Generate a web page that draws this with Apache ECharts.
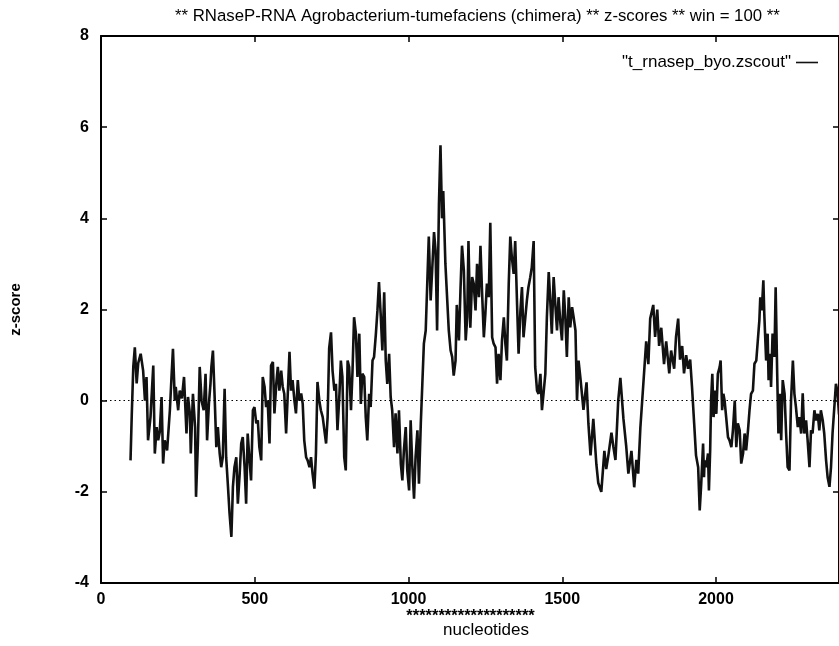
<!DOCTYPE html>
<html>
<head>
<meta charset="utf-8">
<script src="https://cdn.jsdelivr.net/npm/echarts@6/dist/echarts.min.js"></script>
<style>
html,body{margin:0;padding:0;background:#fff;}
#chart{width:839px;height:646px;}
</style>
</head>
<body>
<div id="chart"></div>
<script>
const TITLE = '** RNaseP-RNA Agrobacterium-tumefaciens (chimera) ** z-scores ** win = 100 **';
const SERIES_NAME = '"t_rnasep_byo.zscout"';
const X_NAME = 'nucleotides';
const Y_NAME = 'z-score';
const X_RANGE = [0, 2400];
const X_STEP = 500;
const Y_RANGE = [-4, 8];
const Y_STEP = 2;
const HIGHLIGHT_TEXT = '********************';
const HIGHLIGHT_START = 993;

// [nucleotide position, z-score]
const trace = [
[96,-1.31],[100,-0.32],[105,0.74],[110,1.17],[116,0.38],[121,0.82],[129,1.03],[137,0.66],[143,0],[148,0.52],
[153,-0.87],[161,-0.36],[170,0.77],[175,-1.16],[181,-0.58],[186,-0.87],[191,-0.69],[197,0.08],[202,-1.38],[207,-0.87],
[215,-1.09],[224,-0.21],[229,0.48],[234,1.14],[240,0],[243,0.3],[251,-0.21],[256,0.22],[263,0.05],[270,0.52],
[278,-0.72],[283,0.08],[289,-0.28],[292,-1.16],[299,0.15],[306,-0.58],[309,-2.11],[315,-0.94],[321,0.74],[327,0],
[334,-0.21],[340,0.59],[345,-0.87],[351,-0.06],[356,0.37],[359,0.74],[364,1.10],[370,0],[375,-1.02],[380,-0.58],
[386,-1.16],[391,-1.46],[396,-1.24],[402,0.26],[407,-1.24],[413,-1.89],[418,-2.47],[424,-2.99],[429,-1.89],[434,-1.46],
[440,-1.24],[445,-2.26],[451,-1.60],[456,-0.94],[461,-0.80],[467,-1.46],[472,-2.26],[477,-0.72],[483,-1.31],[488,-1.75],
[494,-0.21],[499,-0.14],[505,-0.50],[510,-0.43],[515,-1.02],[521,-1.31],[526,0.52],[532,0.30],[537,-0.14],[542,0],
[548,-0.94],[553,0.77],[559,0.85],[564,-0.28],[570,0.37],[575,0.74],[580,0.22],[586,0.66],[591,0.30],[596,0.15],
[602,-0.72],[607,0.08],[613,1.07],[618,0.22],[623,0.45],[629,0],[634,-0.28],[640,0.45],[645,0],[651,0.16],
[656,-0.07],[661,-0.87],[667,-1.24],[672,-1.31],[678,-1.46],[683,-1.24],[688,-1.60],[694,-1.93],[699,-1.16],[704,0.41],
[710,0],[715,-0.21],[721,-0.36],[726,-0.33],[732,-0.94],[737,-0.36],[742,1.15],[748,1.50],[753,0.66],[759,0.22],
[764,0.37],[769,-0.65],[775,0.08],[780,0.88],[785,0.52],[791,-1.24],[796,-1.53],[802,0.88],[807,0.74],[813,-0.21],
[818,0.66],[823,1.83],[829,1.47],[834,0.52],[840,1.47],[845,-0.07],[850,0.59],[856,0.52],[861,-0.36],[866,-0.87],
[872,0.15],[877,-0.14],[883,0.88],[888,0.96],[894,1.47],[899,1.98],[904,2.60],[910,1.83],[915,1.10],[921,2.38],
[926,0.88],[931,0.37],[937,1.03],[942,0.08],[947,-0.21],[953,-1.02],[958,-0.28],[964,-1.16],[969,-0.21],[975,-1.38],
[980,-1.75],[985,-1.09],[991,-0.58],[996,-1.53],[1002,-1.97],[1007,-0.43],[1012,-1.38],[1018,-2.15],[1023,-1.24],[1029,-0.65],
[1034,-1.82],[1040,-0.50],[1045,0.37],[1050,1.25],[1056,1.54],[1061,2.57],[1066,3.6],[1072,2.20],[1077,2.86],[1083,3.7],
[1088,3.3],[1093,1.54],[1099,4.3],[1104,5.6],[1109,4.0],[1113,4.6],[1120,3.0],[1126,2.20],[1131,1.54],[1137,1.10],
[1142,0.96],[1147,0.55],[1153,0.88],[1157,2.1],[1164,1.32],[1169,2.42],[1174,3.4],[1180,2.86],[1186,1.32],[1191,1.83],
[1195,3.5],[1201,1.6],[1207,2.71],[1212,2.57],[1218,1.98],[1223,3.0],[1229,2.27],[1234,3.4],[1239,2.42],[1245,1.39],
[1250,1.91],[1255,2.57],[1261,2.27],[1266,3.9],[1272,1.39],[1277,1.25],[1283,1.17],[1288,0.37],[1293,1.03],[1299,0.45],
[1304,1.32],[1310,1.83],[1315,1.25],[1320,0.88],[1326,2.57],[1331,3.6],[1336,3.15],[1342,2.78],[1347,3.5],[1353,2.13],
[1358,1.03],[1364,1.98],[1369,2.49],[1374,1.39],[1380,1.83],[1385,2.20],[1390,2.49],[1396,2.71],[1401,2.93],[1407,3.5],
[1412,0.74],[1418,0.22],[1423,0.15],[1429,0.59],[1434,-0.21],[1440,0.22],[1445,0.59],[1450,1.83],[1456,2.82],[1461,2.20],
[1466,1.47],[1472,2.71],[1478,2.05],[1483,1.54],[1488,2.27],[1494,1.69],[1499,1.32],[1505,2.42],[1510,1.83],[1515,0.96],
[1521,2.27],[1526,1.61],[1532,2.05],[1537,1.83],[1543,1.54],[1548,0.0],[1553,0.88],[1559,0.5],[1569,-0.2],[1579,0.4],
[1585,-0.5],[1592,-1.2],[1601,-0.4],[1611,-1.4],[1617,-1.8],[1627,-2.0],[1637,-1.1],[1643,-1.5],[1650,-1.2],[1660,-0.7],
[1666,-1.0],[1673,-1.3],[1682,0.0],[1689,0.5],[1699,-0.4],[1708,-1.0],[1715,-1.6],[1725,-1.1],[1734,-1.9],[1741,-1.3],
[1747,-1.6],[1754,-0.6],[1763,0.3],[1773,1.3],[1780,0.8],[1786,1.8],[1796,2.1],[1802,1.4],[1809,2.0],[1815,1.2],
[1822,1.6],[1831,0.8],[1838,1.3],[1848,0.6],[1854,1.1],[1864,0.7],[1870,1.4],[1877,1.8],[1883,0.9],[1890,1.2],
[1896,0.6],[1903,1.0],[1909,0.7],[1916,0.9],[1922,0.3],[1929,-0.5],[1935,-1.2],[1942,-1.46],[1947,-2.41],[1952,-1.82],
[1958,-0.94],[1961,-1.68],[1963,-1.31],[1968,-1.46],[1974,-1.16],[1977,-1.97],[1981,-1.09],[1984,0],[1988,0.59],[1992,-0.36],
[1998,0.22],[2001,-0.29],[2006,0.59],[2012,0.74],[2015,0.88],[2020,-0.21],[2024,0.15],[2028,0],[2034,-0.43],[2039,-0.80],
[2044,-0.87],[2050,-1.02],[2055,-0.65],[2061,0],[2066,-1.02],[2071,-0.50],[2077,-0.65],[2082,-1.38],[2088,-1.16],[2093,-0.72],
[2098,-1.09],[2104,-0.65],[2109,-0.21],[2114,0.15],[2120,0.22],[2125,0.81],[2131,0.88],[2136,1.32],[2141,1.76],[2144,2.27],
[2149,1.98],[2154,2.64],[2157,1.91],[2163,0.88],[2168,1.47],[2171,0.45],[2176,1.03],[2179,0.30],[2184,1.47],[2190,0.96],
[2194,2.49],[2199,0.59],[2203,-0.72],[2208,0.15],[2212,-0.87],[2217,0.45],[2223,0.15],[2228,-0.72],[2233,-1.46],[2239,-1.53],
[2244,0],[2250,0.88],[2255,0.15],[2260,-0.14],[2266,-0.58],[2271,-0.36],[2277,-0.72],[2282,0.16],[2287,-0.72],[2293,-0.43],
[2298,-0.87],[2304,-1.46],[2309,-0.65],[2314,-0.72],[2320,-0.21],[2325,-0.43],[2331,-0.29],[2336,-0.65],[2341,-0.21],[2347,-0.43],
[2352,-0.72],[2358,-1.31],[2363,-1.68],[2369,-1.89],[2374,-1.46],[2379,-0.72],[2385,-0.72],[2390,0.37],[2395,0.2],[2400,-0.3]
];

const FONT = '"Liberation Sans", Arial, Helvetica, sans-serif';
const BLACK = '#000';

const chart = echarts.init(document.getElementById('chart'), null, {renderer: 'canvas'});

const axisLine = {show: true, onZero: false, lineStyle: {color: BLACK, width: 2}};
const axisTick = {show: true, inside: true, length: 6, lineStyle: {color: BLACK, width: 1.5}};
const tickLabel = {color: BLACK, fontFamily: FONT, fontWeight: 'bold', fontSize: 16, formatter: v => String(v)};

const option = {
  animation: false,
  backgroundColor: '#fff',
  title: {
    text: TITLE,
    left: 170, top: 3,
    textStyle: {color: BLACK, fontFamily: FONT, fontWeight: 'normal', fontSize: 16.8}
  },
  legend: {
    data: [{name: SERIES_NAME, icon: 'rect'}],
    right: 16, top: 49,
    align: 'right',
    itemWidth: 22, itemHeight: 1.6,
    itemStyle: {color: '#111'},
    textStyle: {color: BLACK, fontFamily: FONT, fontSize: 17}
  },
  grid: {left: 101, top: 36, width: 741, height: 547, containLabel: false},
  xAxis: [{
    type: 'value', position: 'bottom',
    min: X_RANGE[0], max: X_RANGE[1], interval: X_STEP,
    axisLine, axisTick,
    axisLabel: Object.assign({margin: 9, showMaxLabel: false}, tickLabel),
    splitLine: {show: false},
    name: X_NAME, nameLocation: 'middle', nameGap: 39,
    nameTextStyle: {color: BLACK, fontFamily: FONT, fontSize: 17, padding: [0, 0, 0, 32]}
  }, {
    type: 'value', position: 'top',
    min: X_RANGE[0], max: X_RANGE[1], interval: X_STEP,
    axisLine, axisTick,
    axisLabel: {show: false}, splitLine: {show: false}
  }],
  yAxis: [{
    type: 'value', position: 'left',
    min: Y_RANGE[0], max: Y_RANGE[1], interval: Y_STEP,
    axisLine, axisTick,
    axisLabel: Object.assign({margin: 12}, tickLabel),
    splitLine: {show: false},
    name: Y_NAME, nameLocation: 'middle', nameGap: 78,
    nameTextStyle: {color: BLACK, fontFamily: FONT, fontWeight: 'bold', fontSize: 15}
  }, {
    type: 'value', position: 'right',
    min: Y_RANGE[0], max: Y_RANGE[1], interval: Y_STEP,
    axisLine, axisTick,
    axisLabel: {show: false}, splitLine: {show: false}
  }],
  series: [{
    name: SERIES_NAME,
    type: 'line',
    data: trace,
    symbol: 'none',
    showSymbol: false,
    clip: true,
    lineStyle: {color: '#111', width: 2.6},
    itemStyle: {color: '#111'},
    markLine: {
      silent: true,
      symbol: ['none', 'none'],
      label: {show: false},
      lineStyle: {color: BLACK, width: 1.2, type: [1.5, 3]},
      data: [{yAxis: 0}]
    }
  }]
};

chart.setOption(option);

const hx = chart.convertToPixel({xAxisIndex: 0}, HIGHLIGHT_START);
const axisY = chart.convertToPixel({yAxisIndex: 0}, Y_RANGE[0]);
chart.setOption({
  graphic: [{
    type: 'text',
    left: hx, top: axisY + 25,
    style: {text: HIGHLIGHT_TEXT, fill: BLACK, font: 'bold 16.5px ' + FONT}
  }]
});
</script>
</body>
</html>
